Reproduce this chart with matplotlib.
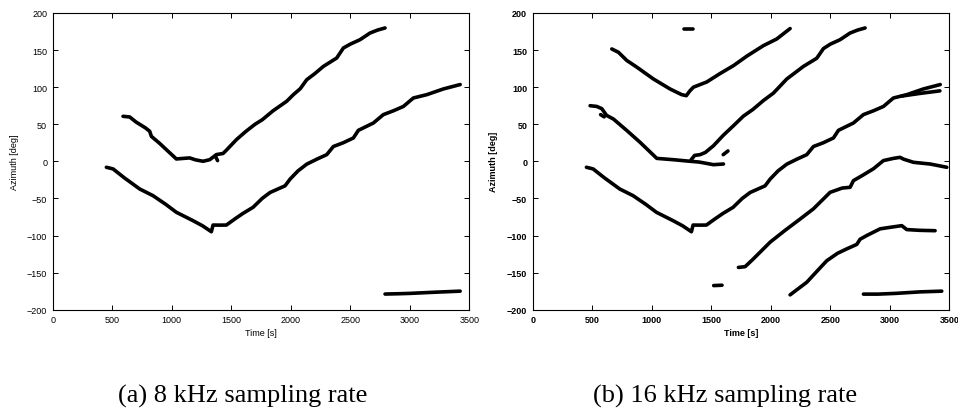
import matplotlib
matplotlib.use("Agg")
import matplotlib.pyplot as plt

# ---- data: (a) 8 kHz sampling rate
a_upper_t = [591, 647, 700, 780, 815, 829, 900, 980, 1039, 1100, 1151, 1200, 1263, 1319, 1350,
             1375, 1431, 1459, 1543, 1620, 1700, 1760, 1850, 1966, 2022, 2080, 2134, 2200, 2274,
             2386, 2442, 2500, 2582, 2666, 2730, 2792]
a_upper_az = [60.7, 59.8, 53, 45, 40.5, 33.7, 24, 12, 3.2, 4, 4.6, 2, 0.1, 2.2, 6,
              9.1, 10.6, 15, 29.2, 40, 50, 56, 68, 81, 89.9, 98, 110, 118, 128,
              139.3, 152.8, 158, 164, 173, 177, 179.8]
a_glitch_t = [1370, 1385]
a_glitch_az = [6, 1]
a_lower_t = [451, 507, 600, 731, 843, 950, 1039, 1179, 1260, 1333, 1347, 1400, 1459, 1529, 1600,
             1683, 1760, 1826, 1952, 1994, 2060, 2134, 2220, 2302, 2358, 2440, 2526, 2568, 2694,
             2778, 2860, 2946, 3030, 3143, 3282, 3423]
a_lower_az = [-8, -10.2, -22, -37.3, -46.3, -58, -68.7, -80, -87, -94.9, -85.9, -86, -85.9, -77.8, -70,
              -62, -50, -42, -33, -24, -13, -3.8, 3, 9, 20, 25, 31.5, 41.8, 51.7,
              63, 68, 74, 85.4, 89.9, 97.6, 103.5]
a_bottom_t = [2792, 2900, 3002, 3200, 3423]
a_bottom_az = [-178.9, -178.5, -178, -176.5, -175]

# ---- data: (b) 16 kHz sampling rate
b_top_t = [664, 720, 790, 874, 1014, 1154, 1250, 1290, 1320, 1350, 1462, 1570, 1686, 1800, 1938, 2050, 2162]
b_top_az = [151.5, 147, 136, 127, 111, 97.5, 90, 88.5, 95, 100, 107, 118, 129, 142, 156, 165, 179]
b_mid_t = [482, 538, 580, 620, 678, 790, 902, 1042, 1182, 1294, 1400, 1518, 1602]
b_mid_az = [75, 74, 71, 62, 57, 41.6, 25.6, 4, 2.2, 0.5, -1, -4.5, -3.6]
b_stub_t = [570, 600]
b_stub_az = [63, 60]
b_rise_t = [1330, 1360, 1406, 1450, 1518, 1600, 1686, 1770, 1850, 1938, 2022, 2134, 2274, 2386,
            2442, 2500, 2582, 2666, 2730, 2792]
b_rise_az = [2, 8, 9, 12, 21, 35, 48, 61, 70, 82, 92, 111, 128, 139, 152, 158, 164, 173, 177, 179.8]
b_branch_t = [3100, 3250, 3420]
b_branch_az = [88, 91.5, 95]
b_blob1_t = [1270, 1350]
b_blob1_az = [178, 178]
b_blob2_t = [1600, 1640]
b_blob2_az = [9, 14]
b_blob3_t = [1520, 1590]
b_blob3_az = [-167.5, -167]
b_c7_t = [1728, 1784, 1850, 1994, 2120, 2246, 2358, 2498, 2600, 2666, 2694, 2780, 2862, 2946,
          3030, 3086, 3114, 3198, 3338, 3478]
b_c7_az = [-143, -142, -132, -109, -93, -77.8, -64, -41.8, -36, -35, -26, -18, -10, 1,
           4, 5.4, 3, -1.3, -3.6, -8]
b_c8_t = [2162, 2302, 2400, 2470, 2560, 2638, 2722, 2750, 2806, 2918, 3000, 3100, 3142, 3250, 3380]
b_c8_az = [-180, -163, -146, -134, -124, -118, -112, -105, -100, -91, -89, -86.7, -92, -93, -93.5]
b_bottom_t = [2778, 2900, 3050, 3250, 3436]
b_bottom_az = [-179, -179, -178, -176, -175]

panel_a = [(a_upper_t, a_upper_az), (a_glitch_t, a_glitch_az), (a_lower_t, a_lower_az),
           (a_bottom_t, a_bottom_az)]
panel_b = [(a_lower_t, a_lower_az), (b_top_t, b_top_az), (b_mid_t, b_mid_az), (b_stub_t, b_stub_az),
           (b_rise_t, b_rise_az), (b_branch_t, b_branch_az), (b_blob1_t, b_blob1_az),
           (b_blob2_t, b_blob2_az), (b_blob3_t, b_blob3_az), (b_c7_t, b_c7_az),
           (b_c8_t, b_c8_az), (b_bottom_t, b_bottom_az)]

xticks = [0, 500, 1000, 1500, 2000, 2500, 3000, 3500]
yticks = [-200, -150, -100, -50, 0, 50, 100, 150, 200]
captions = ["(a) 8 kHz sampling rate", "(b) 16 kHz sampling rate"]

plt.rcParams['font.family'] = ['Liberation Sans', 'DejaVu Sans']

fig = plt.figure(figsize=(9.58, 4.10), dpi=100)
lefts = [0.0550, 0.5561]
weights = ['normal', 'bold']

for i, segs in enumerate([panel_a, panel_b]):
    ax = fig.add_axes([lefts[i], 0.2422, 0.4349, 0.7237])
    for t, az in segs:
        ax.plot(t, az, color='k', lw=2.6, solid_capstyle='round', solid_joinstyle='round')
    ax.set_xlim(0, 3500)
    ax.set_ylim(-200, 200)
    ax.set_xticks(xticks)
    ax.set_yticks(yticks)
    ax.tick_params(direction='in', length=3.5, width=0.7, top=True, right=True,
                   labelsize=6.5, pad=4)
    for lab in ax.get_xticklabels() + ax.get_yticklabels():
        lab.set_fontweight(weights[i])
    for s in ax.spines.values():
        s.set_linewidth(0.8)
    ax.set_xlabel('Time [s]', fontsize=6.5, fontweight=weights[i], labelpad=3)
    ax.set_ylabel('Azimuth [deg]', fontsize=6.5, fontweight=weights[i], labelpad=6)

fig.text(243 / 958, 0.033, captions[0], ha='center', va='center', fontsize=19,
         family='Liberation Serif')
fig.text(725 / 958, 0.033, captions[1], ha='center', va='center', fontsize=19,
         family='Liberation Serif')

fig.savefig("out.png", dpi=100)
